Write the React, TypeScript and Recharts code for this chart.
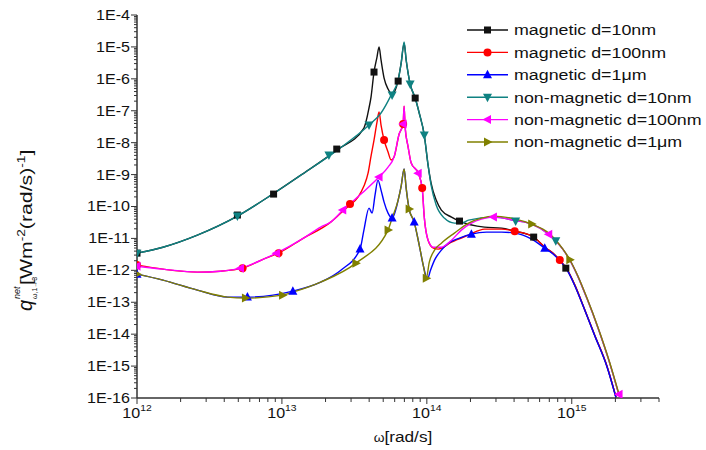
import { ComposedChart, Line, Scatter, XAxis, YAxis } from "recharts";

type Pt = { w: number; q: number };
const pts = (rows: number[][]): Pt[] => rows.map(([w, q]) => ({ w, q }));

// ---- curves (omega [rad/s], q [W m^-2 (rad/s)^-1]) ----
const magnetic10 = pts([
  [1e12, 3.46e-12], [1.51e12, 5.3e-12], [2.61e12, 1.27e-11], [4.93e12, 5.0e-11], [8.63e12, 2.45e-10],
  [1.35e13, 9.6e-10], [2.39e13, 5.86e-9], [3.68e13, 2.87e-8], [3.99e13, 1.22e-7], [4.12e13, 2.69e-7],
  [4.32e13, 1.63e-6], [4.53e13, 4.8e-6], [4.68e13, 1.0e-5], [4.83e13, 3.9e-6], [5.07e13, 1.06e-6],
  [5.4e13, 4.8e-7], [5.76e13, 3.34e-7], [6.34e13, 9.2e-7], [6.65e13, 3.1e-6], [6.97e13, 1.3e-5],
  [7.2e13, 3.9e-6], [7.67e13, 6.9e-7], [8.31e13, 2.5e-7], [8.86e13, 8.5e-8], [9.6e13, 1.73e-8],
  [1.02e14, 1.99e-9], [1.07e14, 5.4e-10], [1.16e14, 1.59e-10], [1.26e14, 7.7e-11], [1.48e14, 4.65e-11],
  [1.68e14, 3.49e-11], [2.5e14, 2.26e-11], [3.28e14, 2.1e-11], [4.04e14, 1.69e-11], [5.46e14, 1.1e-11],
  [6.51e14, 5.3e-12], [7.4e14, 3.46e-12], [8.27e14, 2.09e-12], [9.25e14, 1.09e-12], [1.05e15, 3.44e-13],
  [1.21e15, 7.0e-14], [1.44e15, 9.3e-15], [1.75e15, 9.9e-16], [2.02e15, 1.06e-16],
]);

const magnetic100 = pts([
  [1e12, 1.46e-12], [1.51e12, 1.09e-12], [2.61e12, 8.8e-13], [3.76e12, 9.4e-13], [5.35e12, 1.17e-12],
  [7.46e12, 2.24e-12], [9.48e12, 3.46e-12], [1.41e13, 1.02e-11], [2.17e13, 3.24e-11], [2.68e13, 7.7e-11],
  [2.95e13, 1.11e-10], [3.35e13, 1.97e-10], [3.68e13, 4.36e-10], [3.93e13, 1.11e-9], [4.12e13, 3.8e-9],
  [4.32e13, 1.21e-8], [4.53e13, 4.42e-8], [4.68e13, 9.1e-8], [4.83e13, 3.56e-8], [5.07e13, 1.21e-8],
  [5.4e13, 5.07e-9], [5.67e13, 2.85e-9], [5.94e13, 3.54e-9], [6.44e13, 1.86e-8], [6.86e13, 3.83e-8],
  [6.97e13, 1.4e-7], [7.08e13, 3.08e-8], [7.43e13, 7.3e-9], [7.8e13, 2.3e-9], [8.72e13, 1.11e-9],
  [9.29e13, 3.78e-10], [9.6e13, 4.65e-11], [1.02e14, 8.8e-12], [1.11e14, 4.96e-12], [1.2e14, 4.62e-12],
  [1.48e14, 7.66e-12], [1.94e14, 1.27e-11], [2.5e14, 1.96e-11], [3.28e14, 1.96e-11], [4.04e14, 1.69e-11],
  [5.46e14, 1.1e-11], [6.51e14, 5.3e-12], [7.4e14, 3.46e-12], [8.27e14, 2.09e-12], [9.25e14, 1.09e-12],
  [1.05e15, 3.44e-13], [1.21e15, 7.0e-14], [1.44e15, 9.3e-15], [1.75e15, 9.9e-16], [2.02e15, 1.06e-16],
]);

const magnetic1um = pts([
  [1e12, 7.6e-13], [1.51e12, 4.93e-13], [2.61e12, 2.39e-13], [4.21e12, 1.45e-13], [5.78e12, 1.45e-13],
  [1.19e13, 2.23e-13], [1.85e13, 4.27e-13], [2.55e13, 1.01e-12], [3.46e13, 4.62e-12], [3.68e13, 1.82e-11],
  [3.99e13, 8.9e-11], [4.19e13, 6.2e-11], [4.39e13, 2.28e-10], [4.6e13, 6.7e-10], [4.83e13, 3.27e-10],
  [5.07e13, 1.37e-10], [5.4e13, 6.2e-11], [5.76e13, 4.33e-11], [6.34e13, 1.59e-10], [6.65e13, 4.36e-10],
  [6.97e13, 1.49e-9], [7.2e13, 3.78e-10], [7.55e13, 8.3e-11], [8.18e13, 3.24e-11], [8.86e13, 6.2e-12],
  [9.44e13, 1.46e-12], [1.01e14, 5.4e-13], [1.06e14, 1.01e-12], [1.13e14, 2.09e-12], [1.26e14, 4.3e-12],
  [1.41e14, 7.1e-12], [1.68e14, 1.02e-11], [2.03e14, 1.36e-11], [2.58e14, 1.57e-11], [3.28e14, 1.57e-11],
  [4.04e14, 1.47e-11], [5.29e14, 9.5e-12], [6.51e14, 4.96e-12], [7.4e14, 3.3e-12], [8.27e14, 2.0e-12],
  [9.25e14, 1.05e-12], [1.05e15, 3.3e-13], [1.21e15, 6.8e-14], [1.44e15, 9.0e-15], [1.75e15, 9.5e-16],
  [2.02e15, 1.02e-16],
]);

const nonMagnetic10 = pts([
  [1e12, 3.46e-12], [1.51e12, 5.3e-12], [2.61e12, 1.27e-11], [4.93e12, 5.0e-11], [8.63e12, 2.45e-10],
  [1.35e13, 9.6e-10], [2.36e13, 5.45e-9], [3.99e13, 3.56e-8], [4.83e13, 8.5e-8], [5.67e13, 3.1e-7],
  [6.34e13, 9.2e-7], [6.65e13, 3.1e-6], [6.97e13, 1.43e-5], [7.2e13, 3.9e-6], [7.67e13, 6.9e-7],
  [8.31e13, 2.5e-7], [8.86e13, 8.5e-8], [9.6e13, 1.73e-8], [1.02e14, 1.99e-9], [1.07e14, 4.69e-10],
  [1.16e14, 1.11e-10], [1.32e14, 4.33e-11], [1.55e14, 3.02e-11], [1.73e14, 3.02e-11], [1.94e14, 3.75e-11],
  [2.88e14, 4.65e-11], [4.1e14, 3.6e-11], [5.29e14, 2.81e-11], [6.94e14, 1.36e-11], [7.76e14, 8.5e-12],
  [8.67e14, 4.62e-12], [9.7e14, 2.09e-12], [1.1e15, 6.6e-13], [1.27e15, 1.35e-13], [1.52e15, 1.54e-14],
  [1.81e15, 1.43e-15], [2.12e15, 1.22e-16],
]);

const nonMagnetic100 = pts([
  [1e12, 1.35e-12], [1.51e12, 1.09e-12], [2.61e12, 8.8e-13], [3.76e12, 9.4e-13], [5.18e12, 1.17e-12],
  [7.46e12, 2.24e-12], [9.18e12, 3.46e-12], [1.41e13, 1.02e-11], [1.85e13, 2.26e-11], [2.17e13, 3.24e-11],
  [2.68e13, 8.3e-11], [3.51e13, 2.45e-10], [4.68e13, 8.35e-10], [5.4e13, 1.72e-9], [5.94e13, 3.54e-9],
  [6.44e13, 1.86e-8], [6.86e13, 3.83e-8], [6.97e13, 1.4e-7], [7.08e13, 3.08e-8], [7.43e13, 7.3e-9],
  [7.8e13, 2.3e-9], [8.72e13, 1.11e-9], [9.29e13, 3.78e-10], [9.6e13, 4.65e-11], [1.02e14, 8.8e-12],
  [1.11e14, 5.3e-12], [1.26e14, 5.3e-12], [1.48e14, 8.8e-12], [1.73e14, 1.82e-11], [2.03e14, 3.02e-11],
  [2.38e14, 4.03e-11], [2.88e14, 4.65e-11], [4.1e14, 3.6e-11], [5.29e14, 2.81e-11], [6.94e14, 1.36e-11],
  [7.76e14, 8.5e-12], [8.67e14, 4.62e-12], [9.7e14, 2.09e-12], [1.1e15, 6.6e-13], [1.27e15, 1.35e-13],
  [1.52e15, 1.54e-14], [1.81e15, 1.43e-15], [2.12e15, 1.22e-16],
]);

const nonMagnetic1um = pts([
  [1e12, 7.6e-13], [1.51e12, 4.93e-13], [2.61e12, 2.39e-13], [4.21e12, 1.45e-13], [5.6e12, 1.35e-13],
  [1.01e13, 1.67e-13], [1.19e13, 2.07e-13], [1.85e13, 4.27e-13], [3.24e13, 1.68e-12], [5.4e13, 1.82e-11],
  [5.76e13, 4.33e-11], [6.34e13, 1.59e-10], [6.65e13, 4.36e-10], [6.97e13, 1.49e-9], [7.2e13, 3.78e-10],
  [7.55e13, 8.3e-11], [8.18e13, 3.24e-11], [8.86e13, 6.2e-12], [9.44e13, 1.46e-12], [9.91e13, 5.7e-13],
  [1.04e14, 1.81e-12], [1.13e14, 4.3e-12], [1.26e14, 7.1e-12], [1.55e14, 1.47e-11], [1.94e14, 3.02e-11],
  [2.38e14, 4.33e-11], [2.88e14, 5.0e-11], [4.1e14, 4.03e-11], [5.29e14, 2.81e-11], [6.94e14, 1.47e-11],
  [7.76e14, 8.8e-12], [8.67e14, 4.7e-12], [9.7e14, 2.15e-12], [1.1e15, 6.8e-13], [1.27e15, 1.4e-13],
  [1.52e15, 1.6e-14], [1.81e15, 1.5e-15], [2.12e15, 1.3e-16],
]);

// ---- symbol positions (Origin draws a symbol every few points) ----
const magnetic10Sym = pts([
  [1e12, 3.46e-12], [4.93e12, 5.4e-11], [8.76e12, 2.45e-10], [2.39e13, 6.3e-9], [4.32e13, 1.63e-6],
  [6.34e13, 8.5e-7], [8.31e13, 2.5e-7], [1.68e14, 3.49e-11], [5.46e14, 1.1e-11], [9.1e14, 1.17e-12],
]);
const magnetic100Sym = pts([
  [1e12, 1.46e-12], [5.35e12, 1.17e-12], [9.48e12, 3.46e-12], [2.95e13, 1.19e-10], [5.07e13, 1.21e-8],
  [6.86e13, 3.83e-8], [9.29e13, 3.78e-10], [4.04e14, 1.69e-11], [8.27e14, 2.09e-12],
]);
const magnetic1umSym = pts([
  [1e12, 7.6e-13], [5.78e12, 1.45e-13], [1.19e13, 2.23e-13], [3.46e13, 4.62e-12], [5.76e13, 4.33e-11],
  [8.18e13, 3.24e-11], [2.03e14, 1.36e-11], [6.51e14, 4.96e-12],
]);
const nonMagnetic10Sym = pts([
  [1e12, 3.46e-12], [4.93e12, 5.0e-11], [2.11e13, 4.08e-9], [3.99e13, 3.56e-8], [5.76e13, 3.1e-7],
  [7.67e13, 6.9e-7], [9.6e13, 1.73e-8], [4.1e14, 3.49e-11], [7.76e14, 8.5e-12],
]);
const nonMagnetic100Sym = pts([
  [1e12, 1.35e-12], [5.18e12, 1.17e-12], [9.18e12, 3.46e-12], [2.63e13, 7.7e-11], [4.68e13, 8.35e-10],
  [6.86e13, 3.83e-8], [8.72e13, 1.11e-9], [2.88e14, 4.65e-11], [6.94e14, 1.36e-11], [2.12e15, 1.3e-16],
]);
const nonMagnetic1umSym = pts([
  [1e12, 7.6e-13], [5.6e12, 1.35e-13], [1.01e13, 1.67e-13], [3.24e13, 1.68e-12], [5.4e13, 1.82e-11],
  [7.55e13, 8.3e-11], [9.91e13, 5.7e-13], [5.29e14, 2.81e-11], [9.7e14, 2.15e-12],
]);

// ---- axes ----
const xMajor = [1e12, 1e13, 1e14, 1e15];
const xLabels = ["12", "13", "14", "15"];
const yMajor = [1e-16, 1e-15, 1e-14, 1e-13, 1e-12, 1e-11, 1e-10, 1e-9, 1e-8, 1e-7, 1e-6, 1e-5, 1e-4];
const yLabels = ["1E-16", "1E-15", "1E-14", "1E-13", "1E-12", "1E-11", "1E-10", "1E-9", "1E-8", "1E-7", "1E-6", "1E-5", "1E-4"];
const minorSteps = [2, 3, 4, 5, 6, 7, 8, 9];
const X_MAX = 4e15;

const xTicks = [...xMajor, ...xMajor.flatMap(d => minorSteps.map(k => k * d))]
  .filter(v => v <= X_MAX * 1.0001)
  .sort((a, b) => a - b);
const yTicks = [...yMajor, ...yMajor.slice(0, -1).flatMap(d => minorSteps.map(k => k * d))].sort((a, b) => a - b);

const FONT = "'Liberation Sans', Arial, sans-serif";
const AXIS = "#333";
const SX = 1.15;

type Kind = "square" | "circle" | "up" | "down" | "left" | "right";

const series: { name: string; color: string; kind: Kind; line: Pt[]; sym: Pt[] }[] = [
  { name: "magnetic d=10nm", color: "#111111", kind: "square", line: magnetic10, sym: magnetic10Sym },
  { name: "magnetic d=100nm", color: "#ff0000", kind: "circle", line: magnetic100, sym: magnetic100Sym },
  { name: "magnetic d=1\u03bcm", color: "#0000ff", kind: "up", line: magnetic1um, sym: magnetic1umSym },
  { name: "non-magnetic d=10nm", color: "#0f8282", kind: "down", line: nonMagnetic10, sym: nonMagnetic10Sym },
  { name: "non-magnetic d=100nm", color: "#ff00ff", kind: "left", line: nonMagnetic100, sym: nonMagnetic100Sym },
  { name: "non-magnetic d=1\u03bcm", color: "#808000", kind: "right", line: nonMagnetic1um, sym: nonMagnetic1umSym },
];

function Symbol({ cx, cy, kind, color }: { cx: number; cy: number; kind: Kind; color: string }) {
  if (cx == null || cy == null) return null;
  if (kind === "square") return <rect x={cx - 3.5} y={cy - 3.5} width={7} height={7} fill={color} />;
  if (kind === "circle") return <circle cx={cx} cy={cy} r={4} fill={color} />;
  const p: Record<string, number[][]> = {
    up: [[0, -5], [-4.5, 3.5], [4.5, 3.5]],
    down: [[0, 5], [-4.5, -3.5], [4.5, -3.5]],
    left: [[-5, 0], [3.5, -4.5], [3.5, 4.5]],
    right: [[5, 0], [-3.5, -4.5], [-3.5, 4.5]],
  };
  return <polygon points={p[kind].map(([dx, dy]) => `${cx + dx},${cy + dy}`).join(" ")} fill={color} />;
}

const isMajor = (v: number) => {
  const e = Math.log10(v);
  return Math.abs(e - Math.round(e)) < 1e-6;
};

function YTick({ x, y, payload }: any) {
  const v = payload.value as number;
  const major = isMajor(v);
  const idx = yMajor.findIndex(m => Math.abs(Math.log10(m) - Math.log10(v)) < 1e-6);
  const tx = x - 7;
  return (
    <g>
      <line x1={x - (major ? 6 : 3)} x2={x} y1={y} y2={y} stroke={AXIS} strokeWidth={1} />
      {major && (
        <text x={tx} y={y + 5} textAnchor="end" fontSize={14} fontFamily={FONT} fill="#111"
          transform={`translate(${tx},0) scale(${SX},1) translate(${-tx},0)`}>
          {yLabels[idx]}
        </text>
      )}
    </g>
  );
}

function XTick({ x, y, payload }: any) {
  const v = payload.value as number;
  const major = isMajor(v);
  const idx = xMajor.findIndex(m => Math.abs(Math.log10(m) - Math.log10(v)) < 1e-6);
  return (
    <g>
      <line x1={x} x2={x} y1={y} y2={y + (major ? 6 : 4)} stroke={AXIS} strokeWidth={1} />
      {major && (
        <text x={x} y={y + 20} textAnchor="middle" fontSize={14} fontFamily={FONT} fill="#111"
          transform={`translate(${x},0) scale(${SX},1) translate(${-x},0)`}>
          10<tspan dy={-7} fontSize={9}>{xLabels[idx]}</tspan>
        </text>
      )}
    </g>
  );
}

export default function App() {
  return (
    <div style={{ position: "absolute", left: 0, top: 0, width: 706, height: 450, background: "#fff" }}>
      <ComposedChart width={706} height={450} margin={{ top: 15, right: 47, left: 0, bottom: 0 }}>
        <XAxis dataKey="w" type="number" scale="log" domain={[1e12, X_MAX]} allowDataOverflow
          ticks={xTicks} interval={0} tick={<XTick />} tickLine={false} tickSize={0} tickMargin={0}
          height={52} axisLine={{ stroke: AXIS, strokeWidth: 1.5 }} />
        <YAxis dataKey="q" type="number" scale="log" domain={[1e-16, 1e-4]} allowDataOverflow
          ticks={yTicks} interval={0} tick={<YTick />} tickLine={false} tickSize={0} tickMargin={0}
          width={137} axisLine={{ stroke: AXIS, strokeWidth: 1.5 }} />
        {series.map(s => (
          <Line key={s.name} data={s.line} dataKey="q" type="monotoneX" stroke={s.color} strokeWidth={1.4}
            dot={false} activeDot={false} isAnimationActive={false} />
        ))}
        {series.map(s => (
          <Scatter key={s.name + "-sym"} data={s.sym} dataKey="q" isAnimationActive={false}
            shape={(p: any) => <Symbol cx={p.cx} cy={p.cy} kind={s.kind} color={s.color} />} />
        ))}
      </ComposedChart>

      <svg width={706} height={450} style={{ position: "absolute", left: 0, top: 0, pointerEvents: "none" }}>
        {/* legend */}
        {series.map((s, i) => {
          const cy = 30 + i * 22.4;
          const tx = 514;
          return (
            <g key={s.name}>
              <line x1={467} x2={508} y1={cy} y2={cy} stroke={s.color} strokeWidth={1.4} />
              <Symbol cx={487.5} cy={cy} kind={s.kind} color={s.color} />
              <text x={tx} y={cy + 5.5} fontSize={15.5} fontFamily={FONT} fill="#111"
                transform={`translate(${tx},0) scale(${SX},1) translate(${-tx},0)`}>
                {s.name}
              </text>
            </g>
          );
        })}

        {/* x title */}
        <text x={403} y={442} textAnchor="middle" fontSize={15} fontFamily={FONT} fill="#111"
          transform={`translate(403,0) scale(${SX},1) translate(-403,0)`}>
          <tspan fontSize={12}>{"\u03c9"}</tspan>[rad/s]
        </text>

        {/* y title */}
        <g transform="translate(32,311) rotate(-90)" fontFamily={FONT} fill="#111">
          <text x={0} y={0} fontSize={20} fontStyle="italic">q</text>
          <text x={12} y={5} fontSize={7}>{"\u03c9,1\u21923"}</text>
          <text x={12} y={-12} fontSize={9} fontStyle="italic">net</text>
          <g transform="translate(26,0) scale(1.25,1)">
            <text x={0} y={0} fontSize={17}>
              [Wm<tspan dy={-7} fontSize={11}>-2</tspan>
              <tspan dy={7}>(rad/s)</tspan>
              <tspan dy={-7} fontSize={11}>-1</tspan>
              <tspan dy={7}>]</tspan>
            </text>
          </g>
        </g>
      </svg>
    </div>
  );
}
